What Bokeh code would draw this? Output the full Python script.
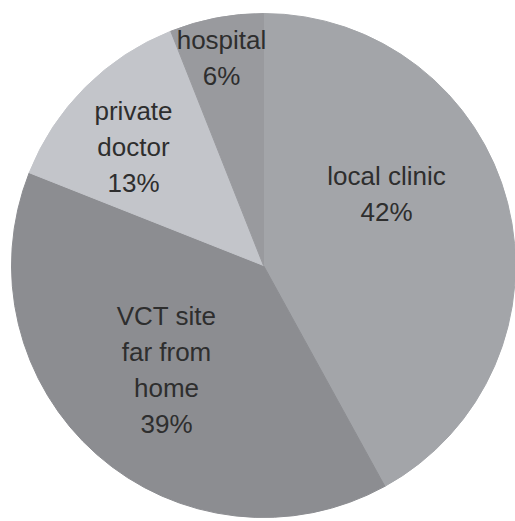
import math
from bokeh.plotting import figure
from bokeh.models import Range1d, ColumnDataSource
from bokeh.core.properties import value
from bokeh.embed import file_html
from bokeh.resources import INLINE

# ---- data ----
categories = ["local clinic", "VCT site\nfar from\nhome", "private\ndoctor", "hospital"]
shares = [42, 39, 13, 6]
colors = ["#a3a5a9", "#8c8d91", "#c3c5ca", "#999a9e"]

# ---- layout (figure pixels map 1:1 to data units) ----
W, H = 515, 521
cx, cy, R = 263, 256, 252
# label anchor offsets from the pie centre (layout only)
label_dx = [123, -97, -130, -42]
label_dy = [72, -104, 119, 208]

total = float(sum(shares))
starts, ends, texts, lx, ly = [], [], [], [], []
cum = 0.0
for i, (c, s) in enumerate(zip(categories, shares)):
    a0 = math.pi / 2 - 2 * math.pi * cum / total
    cum += s
    a1 = math.pi / 2 - 2 * math.pi * cum / total
    starts.append(a0)
    ends.append(a1)
    texts.append(f"{c}\n{s}%")
    lx.append(cx + label_dx[i])
    ly.append(cy + label_dy[i])

src = ColumnDataSource(dict(start=starts, end=ends, color=colors,
                            x=[cx] * len(shares), y=[cy] * len(shares)))
lab = ColumnDataSource(dict(x=lx, y=ly, text=texts))

p = figure(width=W, height=H, output_backend="svg", toolbar_location=None,
           x_range=Range1d(0, W), y_range=Range1d(0, H), min_border=0)
p.axis.visible = False
p.grid.visible = False
p.outline_line_color = None
p.background_fill_color = "white"

p.wedge(x="x", y="y", radius=R, start_angle="start", end_angle="end",
        direction="clock", fill_color="color", line_color="color", line_width=1,
        source=src)

p.text(x="x", y="y", text="text", source=lab, text_align="center",
       text_baseline="middle", text_font=value("Liberation Sans"),
       text_font_size="26px", text_color="#2e2e2e", text_line_height=1.2)

open("out.html", "w").write(file_html(p, INLINE))
